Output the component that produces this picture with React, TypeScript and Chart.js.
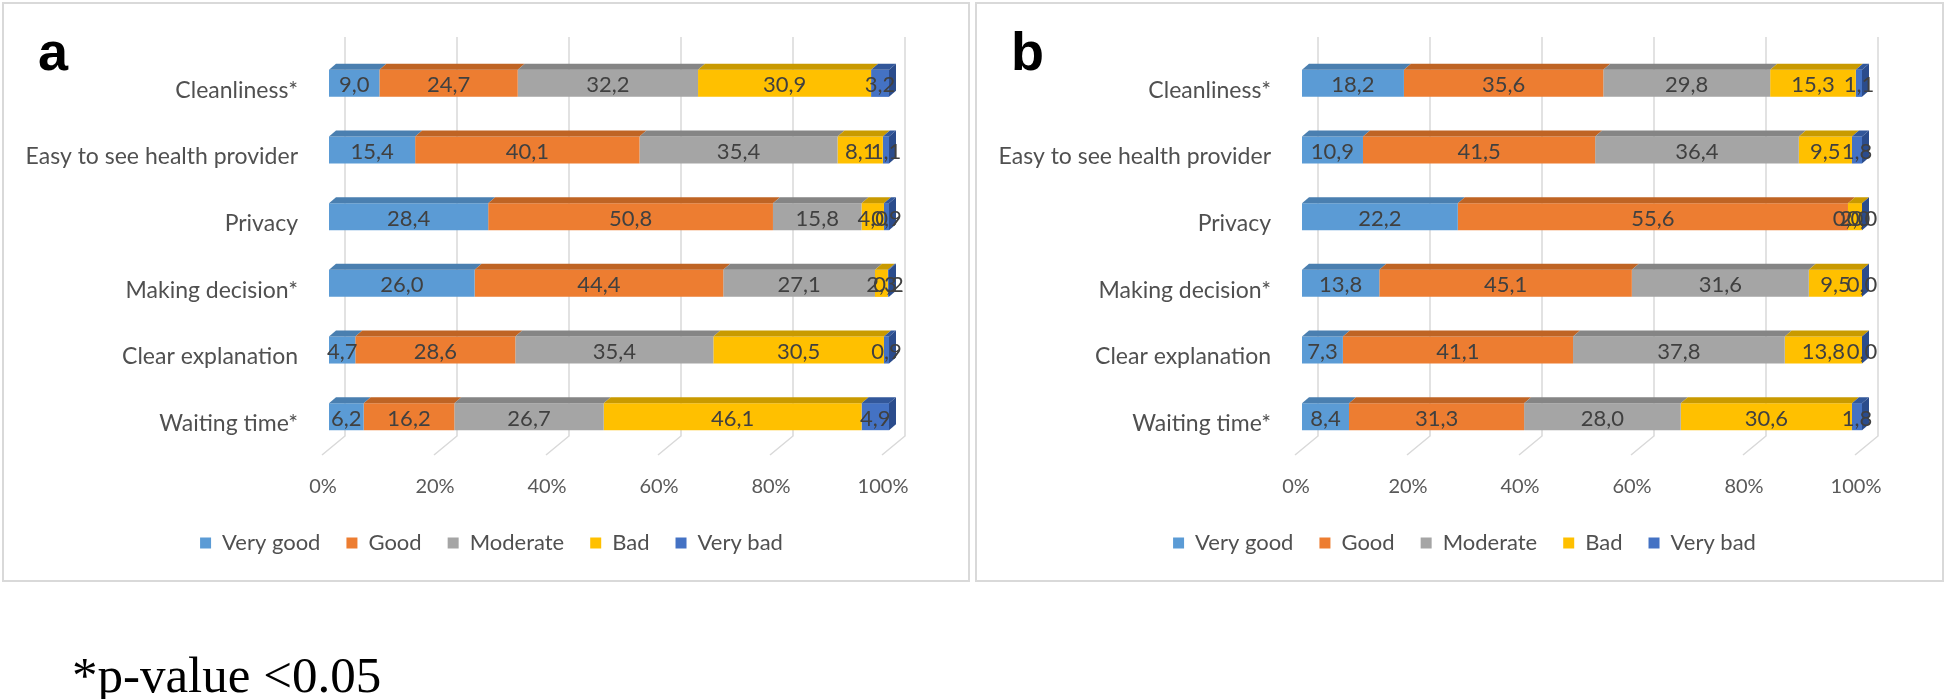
import React, { useEffect, useRef } from 'react';
import { Chart, registerables } from 'chart.js';

Chart.register(...registerables);

const CATEGORIES = ['Cleanliness*', 'Easy to see health provider', 'Privacy', 'Making decision*', 'Clear explanation', 'Waiting time*'];
const SERIES = ['Very good', 'Good', 'Moderate', 'Bad', 'Very bad'];
const TICK_VALUES = [0, 20, 40, 60, 80, 100];

// Panel a
const A_VERY_GOOD = [9.0, 15.4, 28.4, 26.0, 4.7, 6.2];
const A_GOOD = [24.7, 40.1, 50.8, 44.4, 28.6, 16.2];
const A_MODERATE = [32.2, 35.4, 15.8, 27.1, 35.4, 26.7];
const A_BAD = [30.9, 8.1, 4.0, 2.3, 30.5, 46.1];
const A_VERY_BAD = [3.2, 1.1, 0.9, 0.2, 0.9, 4.9];

// Panel b
const B_VERY_GOOD = [18.2, 10.9, 22.2, 13.8, 7.3, 8.4];
const B_GOOD = [35.6, 41.5, 55.6, 45.1, 41.1, 31.3];
const B_MODERATE = [29.8, 36.4, 0.0, 31.6, 37.8, 28.0];
const B_BAD = [15.3, 9.5, 2.0, 9.5, 13.8, 30.6];
const B_VERY_BAD = [1.1, 1.8, 0.0, 0.0, 0.0, 1.8];

const FRONT_COLORS = ['#5B9BD5', '#ED7D31', '#A5A5A5', '#FFC000', '#4472C4'];
const TOP_COLORS = ['#4A7FB0', '#BF6424', '#858585', '#C99A00', '#32579A'];
const END_COLOR = '#2B4C8C';

const CANVAS_W = 968;
const CANVAS_H = 579;

function buildConfig(series: number[][]) {
  const sums = CATEGORIES.map((_, i) => series.reduce((s, arr) => s + arr[i], 0));
  const datasets = series.map((arr, k) => ({
    label: SERIES[k],
    data: arr.map((v, i) => (v / sums[i]) * 100),
    raw: arr,
    backgroundColor: FRONT_COLORS[k],
    borderWidth: 0,
    barPercentage: 0.406,
    categoryPercentage: 1,
  }));

  const DX = 7;
  const DY = 6;

  const wallPlugin = {
    id: 'wall3d',
    afterLayout(chart: any) {
      const lg = chart.legend;
      if (lg) {
        lg.left += 46;
        lg.right += 46;
      }
    },
    beforeDatasetsDraw(chart: any) {
      const ctx = chart.ctx;
      const xs = chart.scales.x;
      ctx.save();
      ctx.strokeStyle = '#d9d9d9';
      ctx.lineWidth = 1.5;
      TICK_VALUES.forEach((v) => {
        const px = xs.getPixelForValue(v);
        ctx.beginPath();
        ctx.moveTo(px + 16, 35);
        ctx.lineTo(px + 16, 434);
        ctx.lineTo(px - 7, 453);
        ctx.stroke();
      });
      ctx.restore();
    },
    afterDatasetsDraw(chart: any) {
      const ctx = chart.ctx;
      ctx.save();
      const n = chart.data.datasets.length;
      // top faces
      for (let k = 0; k < n; k++) {
        const meta = chart.getDatasetMeta(k);
        meta.data.forEach((el: any) => {
          const h = el.height;
          const top = el.y - h / 2;
          const l = Math.min(el.base, el.x);
          const r = Math.max(el.base, el.x);
          ctx.fillStyle = TOP_COLORS[k];
          ctx.beginPath();
          ctx.moveTo(l, top);
          ctx.lineTo(r, top);
          ctx.lineTo(r + DX, top - DY);
          ctx.lineTo(l + DX, top - DY);
          ctx.closePath();
          ctx.fill();
        });
      }
      // end faces
      const last = chart.getDatasetMeta(n - 1);
      last.data.forEach((el: any) => {
        const h = el.height;
        const top = el.y - h / 2;
        const bottom = el.y + h / 2;
        const r = Math.max(el.base, el.x);
        ctx.fillStyle = END_COLOR;
        ctx.beginPath();
        ctx.moveTo(r, top);
        ctx.lineTo(r + DX, top - DY);
        ctx.lineTo(r + DX, bottom - DY);
        ctx.lineTo(r, bottom);
        ctx.closePath();
        ctx.fill();
      });
      // data labels
      ctx.font = '22px Lato';
      ctx.fillStyle = '#404040';
      ctx.textAlign = 'center';
      ctx.textBaseline = 'middle';
      for (let k = 0; k < n; k++) {
        const meta = chart.getDatasetMeta(k);
        const raw = chart.data.datasets[k].raw as number[];
        meta.data.forEach((el: any, i: number) => {
          const cx = (el.base + el.x) / 2;
          const txt = raw[i].toFixed(1).replace('.', ',');
          ctx.fillText(txt, cx, el.y + 2);
        });
      }
      ctx.restore();
    },
  };

  return {
    type: 'bar' as const,
    data: { labels: CATEGORIES, datasets },
    plugins: [wallPlugin],
    options: {
      indexAxis: 'y' as const,
      responsive: false,
      maintainAspectRatio: false,
      animation: false as const,
      devicePixelRatio: 1,
      layout: { padding: { top: 48, right: 81, bottom: 17, left: 0 } },
      scales: {
        x: {
          stacked: true,
          min: 0,
          max: 100,
          grid: { display: false, drawTicks: false },
          border: { display: false },
          afterFit(scale: any) {
            scale.height = 56;
          },
          afterBuildTicks(scale: any) {
            scale.ticks = TICK_VALUES.map((v) => ({ value: v }));
          },
          ticks: {
            padding: 25,
            labelOffset: -6,
            color: '#595959',
            font: { family: 'Lato', size: 20 },
            callback: (v: any) => v + '%',
          },
        },
        y: {
          stacked: true,
          grid: { display: false, drawTicks: false },
          border: { display: false },
          afterFit(scale: any) {
            scale.width = 327;
          },
          ticks: {
            padding: 31,
            labelOffset: 7,
            color: '#505050',
            font: { family: 'Lato', size: 23 },
          },
        },
      },
      plugins: {
        legend: {
          position: 'bottom' as const,
          labels: {
            boxWidth: 11,
            boxHeight: 11,
            padding: 26,
            color: '#505050',
            font: { family: 'Lato', size: 22 },
          },
        },
        tooltip: { enabled: false },
        title: { display: false },
      },
    },
  };
}

function Panel({ series, left, width, title }: { series: number[][]; left: number; width: number; title: string }) {
  const ref = useRef<HTMLCanvasElement>(null);
  useEffect(() => {
    const chart = new Chart(ref.current as HTMLCanvasElement, buildConfig(series) as any);
    return () => chart.destroy();
  }, []);
  return (
    <>
      <div
        style={{
          position: 'absolute',
          left,
          top: 2,
          width,
          height: 580,
          border: '2px solid #d9d9d9',
          boxSizing: 'border-box',
          background: '#ffffff',
        }}
      />
      <canvas
        ref={ref}
        width={CANVAS_W}
        height={CANVAS_H}
        style={{ position: 'absolute', left, top: 2, width: CANVAS_W, height: CANVAS_H }}
      />
      <div
        style={{
          position: 'absolute',
          left: left + 36,
          top: 24,
          fontFamily: '"Liberation Sans", Arial, sans-serif',
          fontWeight: 'bold',
          fontSize: 54,
          lineHeight: '54px',
          color: '#000',
        }}
      >
        {title}
      </div>
    </>
  );
}

export default function App() {
  const seriesA = [A_VERY_GOOD, A_GOOD, A_MODERATE, A_BAD, A_VERY_BAD];
  const seriesB = [B_VERY_GOOD, B_GOOD, B_MODERATE, B_BAD, B_VERY_BAD];
  return (
    <div style={{ position: 'absolute', left: 0, top: 0, width: 1946, height: 699, background: '#fff' }}>
      <Panel series={seriesA} left={2} width={968} title="a" />
      <Panel series={seriesB} left={975} width={969} title="b" />
      <div
        style={{
          position: 'absolute',
          left: 72,
          top: 650,
          fontFamily: '"Liberation Serif", "Times New Roman", serif',
          fontSize: 51,
          lineHeight: '51px',
          color: '#000',
          whiteSpace: 'nowrap',
        }}
      >
        *p-value &lt;0.05
      </div>
    </div>
  );
}
